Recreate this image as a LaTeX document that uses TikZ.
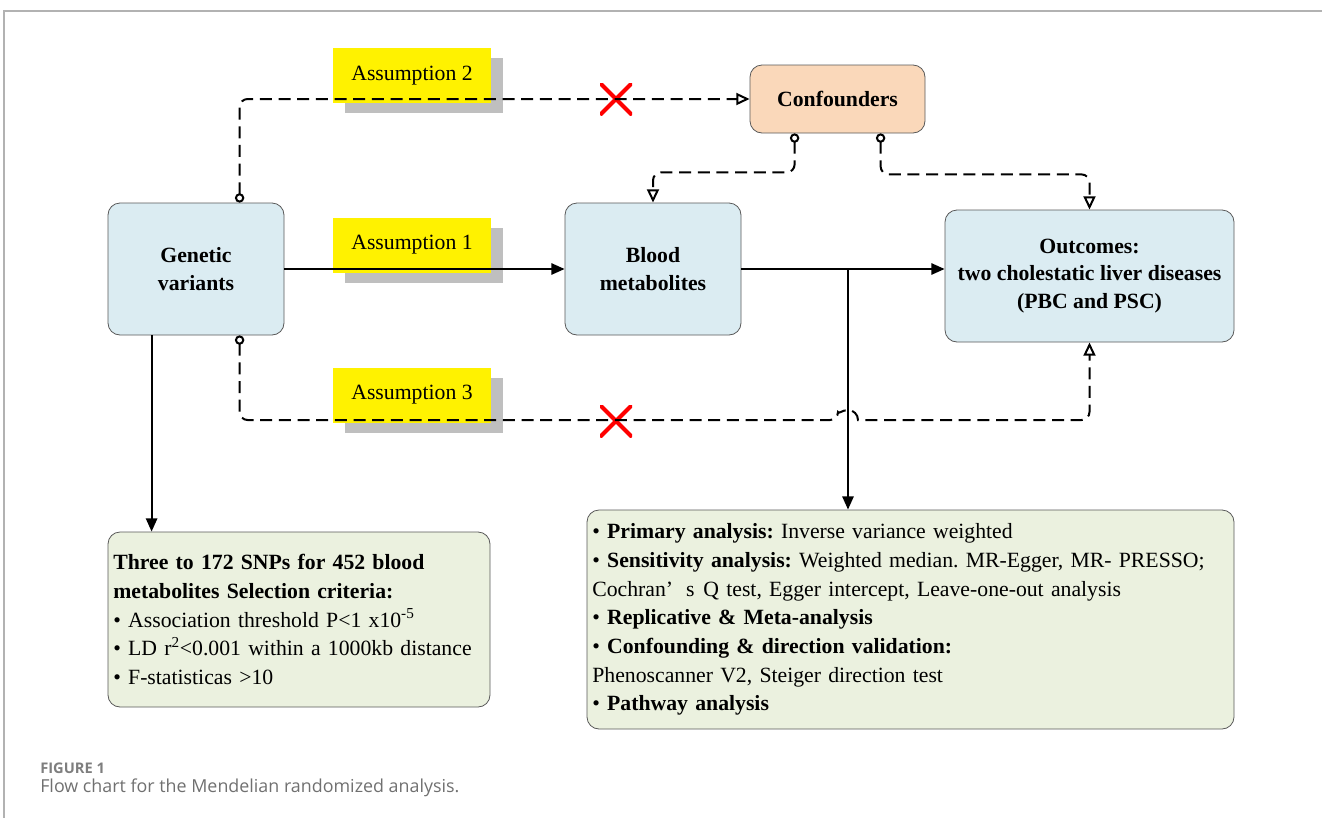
\documentclass[tikz,border=0pt]{standalone}
\usepackage{fontspec}
\setmainfont{Liberation Serif}
\newfontfamily\capfont{Open Sans}
\usepackage{xcolor}
\usepackage{tikz}
\usetikzlibrary{arrows.meta,shadows}

\definecolor{varblue}{HTML}{DBECF2}
\definecolor{confpeach}{HTML}{FAD8BA}
\definecolor{resgreen}{HTML}{EBF1DF}
\definecolor{shadegray}{HTML}{BFBFBF}
\definecolor{capgray}{HTML}{707070}

\begin{document}
\frenchspacing
\begin{tikzpicture}[x=0.75pt, y=-0.75pt,
  every node/.style={font=\fontsize{16.3pt}{20.5pt}\selectfont},
  box/.style={draw=gray!70!black, line width=0.6pt, rounded corners=9pt, align=center, font=\fontsize{16.3pt}{20.5pt}\selectfont\bfseries},
  assum/.style={fill=yellow, minimum width=118.5pt, minimum height=41.25pt, drop shadow={shadow xshift=9pt, shadow yshift=-7.5pt, fill=shadegray, opacity=1}},
  note/.style={draw=gray!70!black, line width=0.6pt, fill=resgreen, rounded corners=9pt, align=left, inner xsep=4pt, font=\fontsize{16.3pt}{21.5pt}\selectfont},
  nocross/.style={minimum size=24pt, inner sep=0pt, path picture={\draw[red, line width=3pt] (path picture bounding box.north west) -- (path picture bounding box.south east) (path picture bounding box.north east) -- (path picture bounding box.south west);}},
  dashln/.style={dash pattern=on 9pt off 5pt, line width=1.5pt, rounded corners=6pt, {Circle[open,length=7pt,width=7pt]}-{Triangle[open,length=10pt,width=9pt]}},
  mainln/.style={line width=1.5pt, -{Triangle[length=10pt,width=8.5pt]}}]
  \useasboundingbox (0,0) rectangle (1322,818);
  \draw[gray!60, line width=1.2pt] (1322,11) -- (4,11) -- (4,818);

  \node[box, fill=varblue, minimum width=132pt, minimum height=99pt] (gen) at (196,269) {Genetic\\variants};
  \node[box, fill=varblue, minimum width=132pt, minimum height=99pt] (blood) at (653,269) {Blood\\metabolites};
  \node[box, fill=varblue, minimum width=216.75pt, minimum height=99pt] (outc) at (1089.5,276) {Outcomes:\\two cholestatic liver diseases\\(PBC and PSC)};
  \node[box, fill=confpeach, minimum width=131.25pt, minimum height=51pt] (conf) at (837.5,99) {Confounders};

  \node[assum] (as2) at (412,75.5) {Assumption 2};
  \node[assum] (as1) at (412,245) {Assumption 1};
  \node[assum] (as3) at (412,395) {Assumption 3};

  \node[nocross] (x2) at (616,99) {};
  \node[nocross] (x3) at (616,421) {};

  \node[note, text width=278.5pt, minimum height=131.25pt] (sel) at (299,619.5) {\textbf{Three to 172 SNPs for 452 blood}\\
    \textbf{metabolites Selection criteria:}\\
    \textbullet~Association threshold P<1 x10\textsuperscript{-5}\\
    \textbullet~LD r\textsuperscript{2}<0.001 within a 1000kb distance\\
    \textbullet~F-statisticas >10};
  \node[note, text width=477.25pt, minimum height=164.25pt] (res) at (910.5,619.5) {\textbullet~\textbf{Primary analysis:} Inverse variance weighted\\
    \textbullet~\textbf{Sensitivity analysis:} Weighted median. MR-Egger, MR- PRESSO;\\
    Cochran’\hspace{0.6em}s\hspace{0.4em}Q test, Egger intercept, Leave-one-out analysis\\
    \textbullet~\textbf{Replicative \& Meta-analysis}\\
    \textbullet~\textbf{Confounding \& direction validation:}\\
    Phenoscanner V2, Steiger direction test\\
    \textbullet~\textbf{Pathway analysis}};

  \node[anchor=base west, inner sep=0pt, font=\capfont\fontsize{11pt}{13pt}\selectfont\bfseries, text=capgray!90] (fig) at (40,773) {FIGURE 1};
  \node[anchor=base west, inner sep=0pt, font=\capfont\fontsize{13.4pt}{15pt}\selectfont, text=capgray] (cap) at (40,792) {Flow chart for the Mendelian randomized analysis.};

  \coordinate (br) at (848,269);
  \coordinate (jmp) at (838,420);
  \coordinate (g1) at ([xshift=33pt]gen.south west);

  \draw[dashln] ([xshift=99pt]gen.north west) |- (conf.west);
  \draw[dashln] ([xshift=33.75pt]conf.south west) -- ++(0,39) -| (blood.north);
  \draw[dashln] ([xshift=98.25pt]conf.south west) -- ++(0,41) -| (outc.north);
  \draw[dashln] ([xshift=99pt]gen.south west) |- (jmp) [sharp corners] arc[start angle=180, end angle=0, radius=7.5pt] [rounded corners=6pt] -| (outc.south);

  \draw[mainln] (gen) -- (blood);
  \draw[mainln] (blood.east) -- (blood.east -| outc.west);
  \draw[mainln] (br) -- (br |- res.north);
  \draw[mainln] (g1) -- (g1 |- sel.north);
\end{tikzpicture}
\end{document}
